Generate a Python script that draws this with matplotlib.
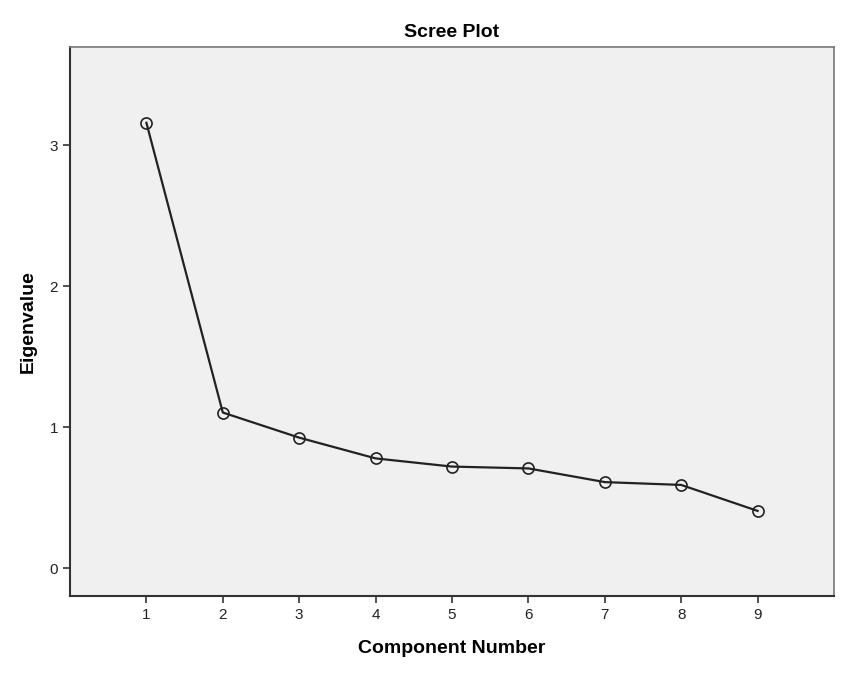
import matplotlib.pyplot as plt
import matplotlib as mpl

mpl.rcParams["font.family"] = ["Liberation Sans", "DejaVu Sans"]

# data
components = [1, 2, 3, 4, 5, 6, 7, 8, 9]
eigenvalues = [3.158, 1.105, 0.927, 0.780, 0.722, 0.709, 0.612, 0.592, 0.408]
y_ticks = [0, 1, 2, 3]

TITLE = "Scree Plot"
X_LABEL = "Component Number"
Y_LABEL = "Eigenvalue"

fig = plt.figure(figsize=(8.44, 6.76), dpi=100)
ax = fig.add_axes([70 / 844, 1 - 596 / 676, (834 - 70) / 844, (596 - 47) / 676])
ax.set_facecolor("#f0f0f0")

ax.plot(components, eigenvalues, color="#222222", linewidth=1.6,
        marker="o", markersize=8, markerfacecolor="none",
        markeredgecolor="#222222", markeredgewidth=1.2)

ax.set_xlim(0, 10)
ax.set_ylim(-0.195, 3.695)
ax.set_xticks(components)
ax.set_yticks(y_ticks)
ax.tick_params(axis="both", direction="out", length=5, width=1.2,
               labelsize=11, color="#333333", labelcolor="#222222")

for side in ["left", "bottom"]:
    ax.spines[side].set_linewidth(1.5)
    ax.spines[side].set_color("#333333")
for side in ["top", "right"]:
    ax.spines[side].set_linewidth(1.2)
    ax.spines[side].set_color("#777777")

ax.set_title(TITLE, fontsize=14, fontweight="bold", pad=7)
ax.set_xlabel(X_LABEL, fontsize=14, fontweight="bold", labelpad=13)
ax.set_ylabel(Y_LABEL, fontsize=14, fontweight="bold", labelpad=9)

fig.savefig("out.png", dpi=100)
